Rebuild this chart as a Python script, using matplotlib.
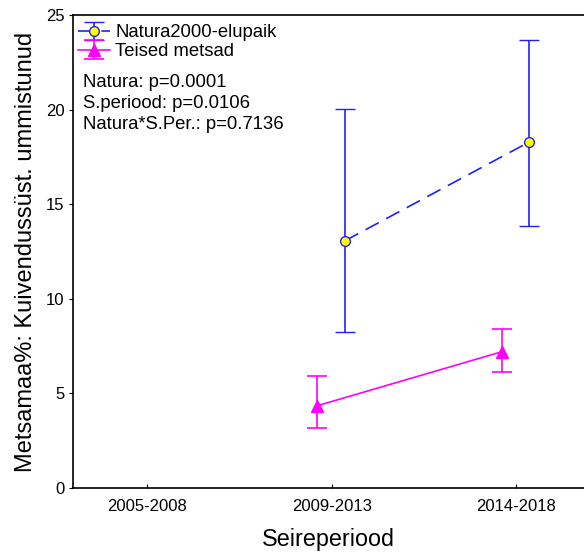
import numpy as np
import matplotlib.pyplot as plt

plt.rcParams['font.family'] = ['Liberation Sans', 'DejaVu Sans']

# data
periods = ["2005-2008", "2009-2013", "2014-2018"]
natura_pos = [1, 2]
natura_mean = [13.07, 18.29]
natura_low = [8.26, 13.86]
natura_high = [20.03, 23.66]

teised_pos = [1, 2]
teised_mean = [4.35, 7.2]
teised_low = [3.19, 6.15]
teised_high = [5.94, 8.39]

stats_text = ["Natura: p=0.0001", "S.periood: p=0.0106", "Natura*S.Per.: p=0.7136"]

fig = plt.figure(figsize=(5.84, 5.56), dpi=100)
ax = fig.add_axes([0.1245, 0.1223, 0.8755, 0.8507])

blue = "#2020ff"
pink = "#ff00ff"

# Natura2000-elupaik
nx = np.array(natura_pos) + 0.073
nm = np.array(natura_mean)
ax.errorbar(nx, nm,
            yerr=[nm - np.array(natura_low), np.array(natura_high) - nm],
            color=blue, ls=(0, (9, 5)), lw=1.2, capsize=7, capthick=1.2,
            marker="o", ms=7, mfc="#ffff00", mec=blue, mew=1,
            label="Natura2000-elupaik")

# Teised metsad
tx = np.array(teised_pos) - 0.077
tm = np.array(teised_mean)
ax.errorbar(tx, tm,
            yerr=[tm - np.array(teised_low), np.array(teised_high) - tm],
            color=pink, ls="-", lw=1.2, capsize=7, capthick=1.2,
            marker="^", ms=8, mfc=pink, mec=pink,
            label="Teised metsad")

ax.set_xlim(-0.405, 2.37)
ax.set_ylim(0, 25)
ax.set_xticks(range(len(periods)))
ax.set_xticklabels(periods, fontsize=12)
ax.set_yticks([0, 5, 10, 15, 20, 25])
ax.tick_params(axis="y", direction="out", length=3, pad=3, labelsize=12)
ax.tick_params(axis="x", direction="in", length=3, pad=8)
ax.spines["right"].set_visible(False)
for s in ["left", "top", "bottom"]:
    ax.spines[s].set_linewidth(1.2)

ax.set_xlabel("Seireperiood", fontsize=16.8, labelpad=10)
ax.set_ylabel("Metsamaa%: Kuivendussüst. ummistunud", fontsize=17, labelpad=6)

ax.legend(loc="upper left", frameon=False, fontsize=13.3,
          bbox_to_anchor=(0.0, 0.992),
          borderaxespad=0.1, handlelength=1.7, handletextpad=0.3,
          labelspacing=0.1, borderpad=0.2)

ax.text(0.02, 0.876, "\n".join(stats_text), transform=ax.transAxes,
        fontsize=13.3, va="top", ha="left", linespacing=1.32)

fig.savefig("out.png", dpi=100)
